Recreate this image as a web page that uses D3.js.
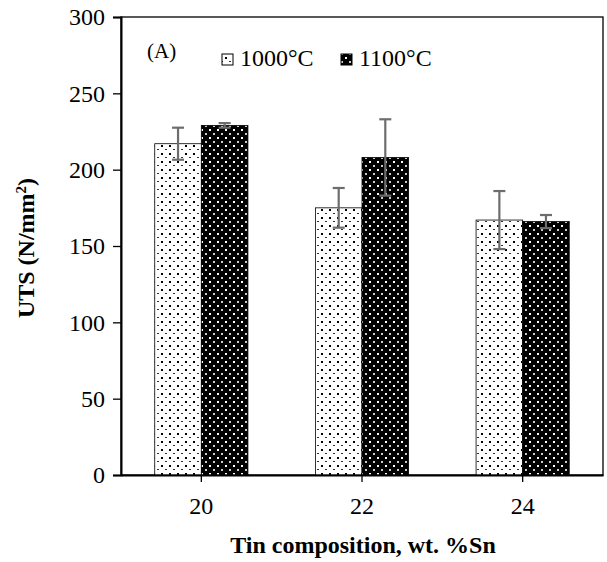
<!DOCTYPE html>
<html><head><meta charset="utf-8">
<script src="https://cdn.jsdelivr.net/npm/d3@7"></script>
<style>body{margin:0;background:#fff} svg text{font-family:"Liberation Serif","Times New Roman",serif !important;}</style>
</head><body>
<svg id="c" width="607" height="562"></svg>
<script>
const categories = ["20", "22", "24"];
const seriesNames = ["1000°C", "1100°C"];
const values1000 = [217, 175, 167];
const values1100 = [229, 208, 166];
const err1000 = [10.5, 13, 19];
const err1100 = [1.5, 25, 4.3];
const yTicks = [0, 50, 100, 150, 200, 250, 300];

const svg = d3.select("#c");
const M = {left: 121, right: 603, top: 17, bottom: 475};
const font = "Liberation Serif";

const defs = svg.append("defs");
const p1 = defs.append("pattern").attr("id","pLight").attr("patternUnits","userSpaceOnUse")
  .attr("width",8).attr("height",8);
p1.append("rect").attr("width",8).attr("height",8).attr("fill","#fff");
p1.append("rect").attr("x",1).attr("y",1).attr("width",2).attr("height",2).attr("fill","#000");
p1.append("rect").attr("x",5).attr("y",5).attr("width",2).attr("height",1).attr("fill","#333");
const p2 = defs.append("pattern").attr("id","pDark").attr("patternUnits","userSpaceOnUse")
  .attr("width",8).attr("height",8);
p2.append("rect").attr("width",8).attr("height",8).attr("fill","#000");
p2.append("rect").attr("x",1).attr("y",1).attr("width",2).attr("height",2).attr("fill","#fff");
p2.append("rect").attr("x",5).attr("y",5).attr("width",2).attr("height",2).attr("fill","#ccc");

const x = d3.scaleBand().domain(categories).range([M.left, M.right]).paddingInner(0.42).paddingOuter(0.21);
const xs = d3.scaleBand().domain(seriesNames).range([0, x.bandwidth()]);
const y = d3.scaleLinear().domain([0, 300]).range([M.bottom, M.top]);

const data = categories.map((c,i)=>[
  {c, s: seriesNames[0], v: values1000[i], e: err1000[i], fill: "url(#pLight)"},
  {c, s: seriesNames[1], v: values1100[i], e: err1100[i], fill: "url(#pDark)"}
]).flat();

svg.append("rect").attr("x",M.left).attr("y",M.top).attr("width",M.right-M.left).attr("height",M.bottom-M.top)
  .attr("fill","none").attr("stroke","#000").attr("stroke-width",1.3);

svg.selectAll("rect.bar").data(data).join("rect").attr("class","bar")
  .attr("x", d=>x(d.c)+xs(d.s)).attr("width", xs.bandwidth())
  .attr("y", d=>y(d.v)).attr("height", d=>y(0)-y(d.v))
  .attr("fill", d=>d.fill).attr("stroke","#000").attr("stroke-width",0.8);

const eg = svg.append("g").attr("stroke","#6d6d6d").attr("stroke-width",2.2);
data.forEach(d=>{
  const cx = x(d.c)+xs(d.s)+xs.bandwidth()/2;
  eg.append("line").attr("x1",cx).attr("x2",cx).attr("y1",y(d.v+d.e)).attr("y2",y(d.v-d.e));
  eg.append("line").attr("x1",cx-6).attr("x2",cx+6).attr("y1",y(d.v+d.e)).attr("y2",y(d.v+d.e));
  eg.append("line").attr("x1",cx-6).attr("x2",cx+6).attr("y1",y(d.v-d.e)).attr("y2",y(d.v-d.e));
});

const ya = svg.append("g").attr("transform",`translate(${M.left},0)`)
  .call(d3.axisLeft(y).tickValues(yTicks).tickSize(8).tickPadding(8));
ya.attr("font-family",font).attr("font-size",24);
ya.select(".domain").attr("stroke","#000").attr("stroke-width",2);
ya.selectAll(".tick line").attr("stroke","#000").attr("stroke-width",1.3);
ya.selectAll("text").attr("fill","#000");

const xa = svg.append("g").attr("transform",`translate(0,${M.bottom})`)
  .call(d3.axisBottom(x).tickSize(7).tickPadding(15).tickSizeOuter(0));
xa.attr("font-family",font).attr("font-size",24);
xa.select(".domain").attr("stroke","#000").attr("stroke-width",2);
xa.selectAll(".tick line").attr("stroke","#000").attr("stroke-width",1.3);
xa.selectAll("text").attr("fill","#000");

svg.append("text").attr("x",363).attr("y",553).attr("text-anchor","middle")
  .attr("font-size",24).attr("font-weight","bold").text("Tin composition, wt. %Sn");
const yl = svg.append("text").attr("transform","translate(34,248) rotate(-90)").attr("text-anchor","middle")
  .attr("font-size",24).attr("font-weight","bold");
yl.append("tspan").text("UTS (N/mm");
yl.append("tspan").attr("font-size",15).attr("dy",-8).text("2");
yl.append("tspan").attr("dy",8).text(")");

svg.append("text").attr("x",147).attr("y",58).attr("font-size",21).text("(A)");

const lg = [{n: seriesNames[0], fill:"url(#pLight)", x:222}, {n: seriesNames[1], fill:"url(#pDark)", x:341}];
lg.forEach(l=>{
  svg.append("rect").attr("x",l.x).attr("y",54).attr("width",11).attr("height",11)
    .attr("fill",l.fill).attr("stroke","#000").attr("stroke-width",1);
  svg.append("text").attr("x",l.x+18).attr("y",66).attr("font-size",24).text(l.n);
});
</script>
</body></html>
